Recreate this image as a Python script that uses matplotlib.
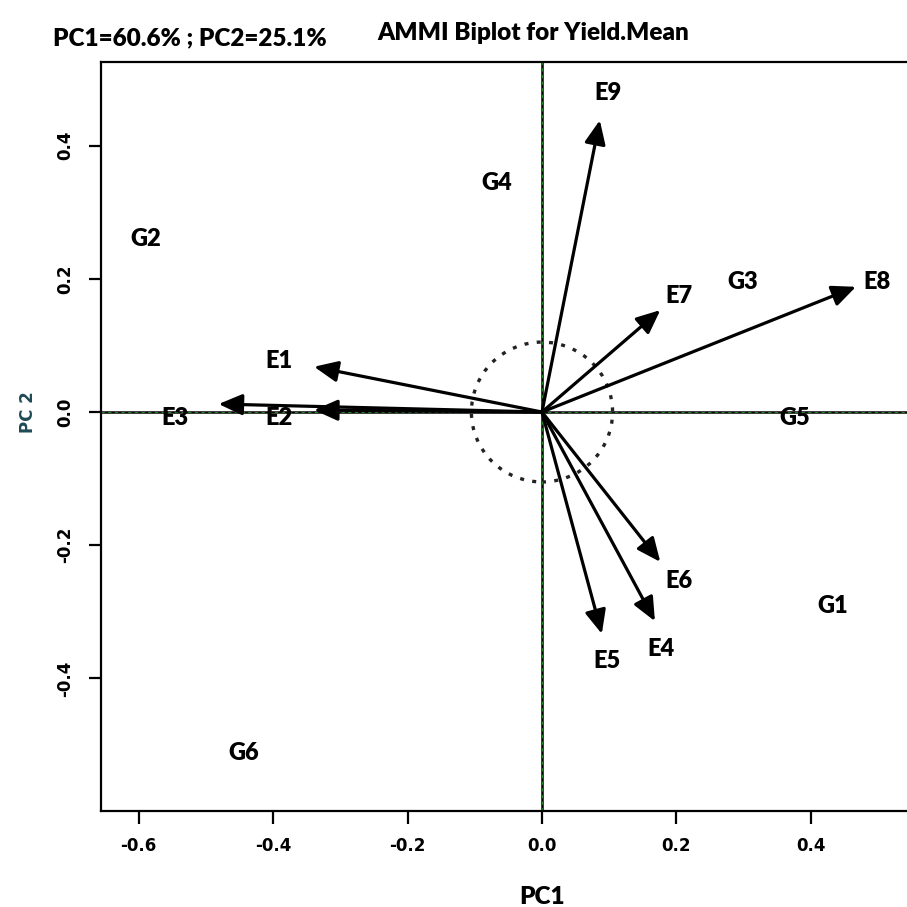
import matplotlib
matplotlib.use("Agg")
import matplotlib.pyplot as plt
from matplotlib.patches import Circle

# environment scores (arrow tips) and where their labels sit
env_names = ["E1", "E2", "E3", "E4", "E5", "E6", "E7", "E8", "E9"]
env_pc1 = [-0.339, -0.339, -0.481, 0.168, 0.089, 0.176, 0.176, 0.467, 0.086]
env_pc2 = [0.068, 0.003, 0.012, -0.314, -0.333, -0.225, 0.153, 0.188, 0.438]
env_lab_pc1 = [-0.391, -0.391, -0.546, 0.177, 0.097, 0.204, 0.204, 0.499, 0.098]
env_lab_pc2 = [0.077, -0.009, -0.009, -0.356, -0.374, -0.254, 0.174, 0.195, 0.479]

# genotype scores (drawn as labels only)
gen_names = ["G1", "G2", "G3", "G4", "G5", "G6"]
gen_pc1 = [0.433, -0.589, 0.298, -0.068, 0.376, -0.443]
gen_pc2 = [-0.291, 0.260, 0.195, 0.344, -0.009, -0.512]

x_ticks = [-0.6, -0.4, -0.2, 0.0, 0.2, 0.4]
y_ticks = [-0.4, -0.2, 0.0, 0.2, 0.4]
circle_r = 0.105

lab_font = "Lato"

fig = plt.figure(figsize=(9.07, 9.07), dpi=100)
ax = fig.add_axes([101 / 907, 1 - 811 / 907, (907 - 101) / 907, (811 - 62) / 907])
ax.set_xlim(-0.656, 0.543)
ax.set_ylim(-0.599, 0.5255)

for side in ["left", "bottom", "top"]:
    ax.spines[side].set_linewidth(1.6)
ax.spines["right"].set_visible(False)

ax.set_xticks(x_ticks)
ax.set_yticks(y_ticks)
ax.set_xticklabels([f"{t:.1f}" for t in x_ticks])
ax.set_yticklabels([f"{t:.1f}" for t in y_ticks], rotation=90, va="center")
ax.tick_params(length=9, width=1.6, pad=10, labelsize=12)
for lab in ax.get_xticklabels() + ax.get_yticklabels():
    lab.set_fontweight("bold")
    lab.set_family("DejaVu Sans")

# reference lines through the origin
ax.axhline(0, color="black", lw=1.8, zorder=1)
ax.axvline(0, color="black", lw=1.8, zorder=1)
ax.axhline(0, color="#2ca02c", lw=0.6, ls=(0, (4, 4)), zorder=1.5)
ax.axvline(0, color="#2ca02c", lw=0.6, ls=(0, (4, 4)), zorder=1.5)

ax.add_patch(Circle((0, 0), circle_r, fill=False, lw=2.4, ls=(0, (1.2, 2.5)), color="#222222"))

for name, x, y, lx, ly in zip(env_names, env_pc1, env_pc2, env_lab_pc1, env_lab_pc2):
    ax.annotate("", xy=(x, y), xytext=(0, 0),
                arrowprops=dict(arrowstyle="-|>,head_length=0.9,head_width=0.4",
                                lw=2.3, color="black", shrinkA=0, shrinkB=0,
                                mutation_scale=16))
    ax.text(lx, ly, name, ha="center", va="center", fontsize=17,
            fontweight="heavy", family=lab_font)

for name, x, y in zip(gen_names, gen_pc1, gen_pc2):
    ax.text(x, y, name, ha="center", va="center", fontsize=17,
            fontweight="heavy", family=lab_font)

fig.text(533 / 907, 1 - 33 / 907, "AMMI Biplot for Yield.Mean", ha="center", va="center",
         fontsize=17.5, fontweight="heavy", family=lab_font)
fig.text(190 / 907, 1 - 38 / 907, "PC1=60.6% ; PC2=25.1%", ha="center", va="center",
         fontsize=17.5, fontweight="heavy", family=lab_font)
fig.text(542 / 907, 1 - 897 / 907, "PC1", ha="center", va="center",
         fontsize=17.5, fontweight="heavy", family=lab_font)
fig.text(28 / 907, 1 - 412 / 907, "PC 2", ha="center", va="center", rotation=90,
         fontsize=12, fontweight="bold", family="DejaVu Sans", color="#1f4a55")

fig.savefig("out.png", dpi=100)
